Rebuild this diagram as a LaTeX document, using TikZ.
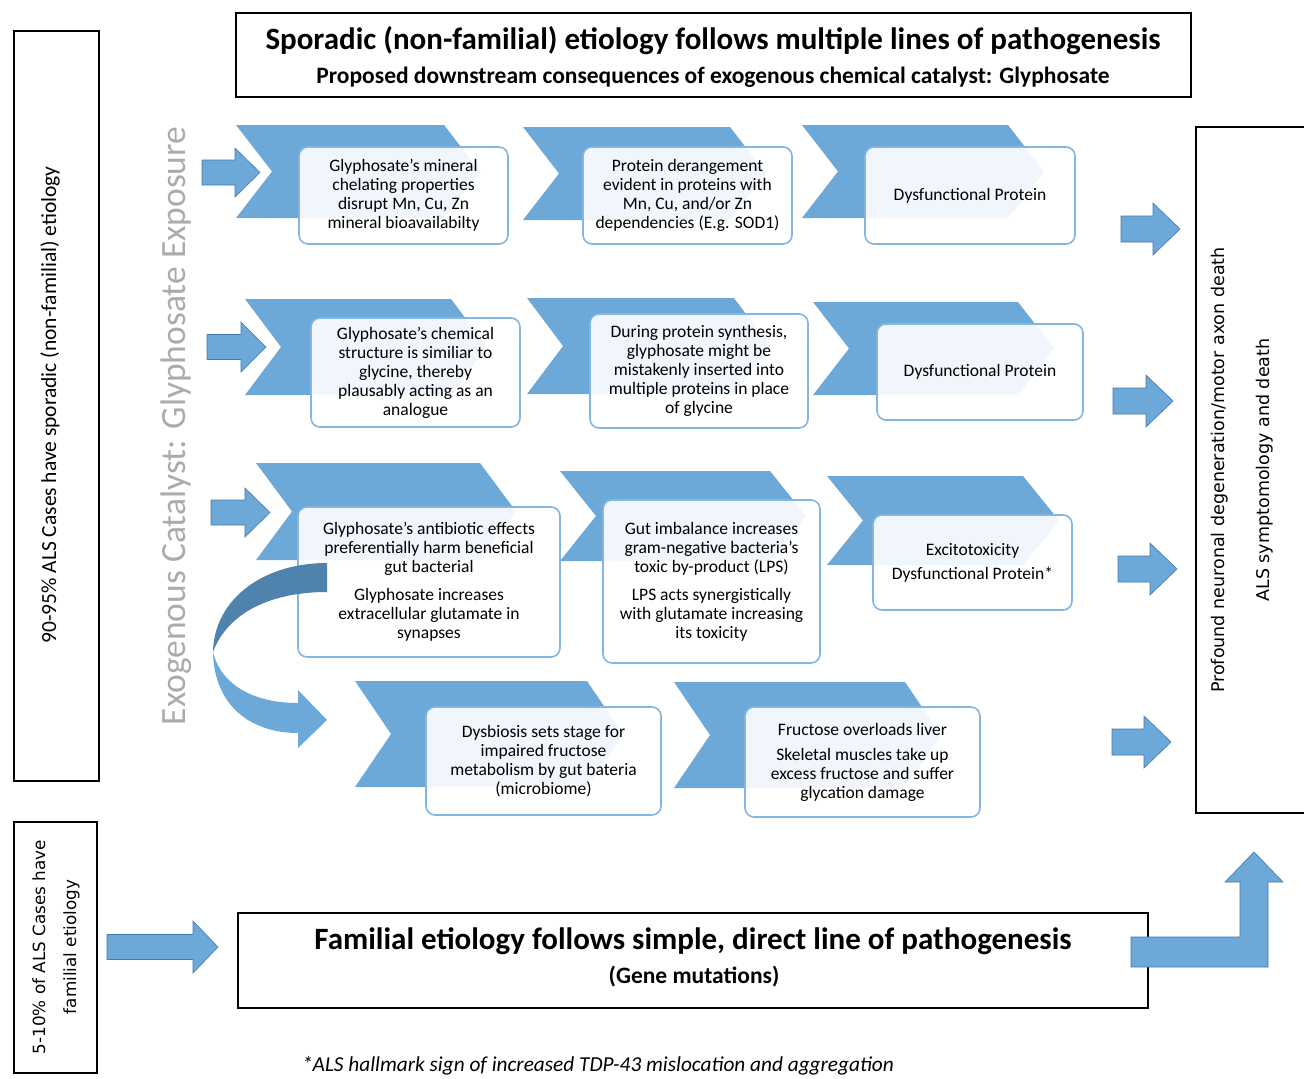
\documentclass[tikz,border=0pt]{standalone}
\usepackage{fontspec}
\setmainfont{Carlito}
\newfontfamily\verdana{DejaVu Sans}
\definecolor{chev}{RGB}{108,168,216}
\definecolor{chevdark}{RGB}{80,130,174}
\definecolor{boxline}{RGB}{132,182,224}
\definecolor{arrline}{RGB}{72,120,170}

\begin{document}
\begin{tikzpicture}[x=1pt,y=-1pt,
  frame/.style={draw=black,line width=1.2pt,inner sep=0pt},
  card/.style={draw=boxline,line width=1.6pt,fill=white,fill opacity=0.9,text opacity=1,
    rounded corners=9pt,align=center,inner sep=0pt,font=\fontsize{17.5}{19}\selectfont},
  blockarrow/.style={fill=chev,draw=arrline,line width=0.6pt}]
  \useasboundingbox (0,0) rectangle (1304,1079);

  % outer frames
  \node[frame,minimum width=85,minimum height=750] (sporadic) at (56.5,406) {};
  \node[frame,minimum width=83,minimum height=251] (familial) at (55.5,947.5) {};
  \node[frame,minimum width=955,minimum height=84] (head) at (713.5,55) {};
  \node[frame,minimum width=910,minimum height=95] (direct) at (693,960.5) {};
  \draw[line width=1.2pt] (1310,127) -- (1196,127) -- (1196,813) -- (1310,813);

  \node[rotate=90,font=\fontsize{21.5}{24}\selectfont] (sporadictxt) at (50,405)
    {90-95\% ALS Cases have sporadic (non-familial) etiology};
  \node[rotate=90,align=center,font=\verdana\fontsize{16.8}{31}\selectfont] (familialtxt) at (56,947)
    {5-10\% of ALS Cases have\\familial etiology};
  \node[font=\bfseries\fontsize{31}{34}\selectfont] (headtxt) at (713,41)
    {Sporadic (non-familial) etiology follows multiple lines of pathogenesis};
  \node[font=\bfseries\fontsize{23.5}{26}\selectfont] (subtxt) at (713,77)
    {Proposed downstream consequences of exogenous chemical catalyst: Glyphosate};
  \node[font=\bfseries\fontsize{31}{34}\selectfont] (directtxt) at (693,941)
    {Familial etiology follows simple, direct line of pathogenesis};
  \node[font=\bfseries\fontsize{23.5}{26}\selectfont] (genetxt) at (694,977) {(Gene mutations)};
  \node[rotate=90,align=center,font=\verdana\fontsize{17.5}{45}\selectfont] (deathtxt) at (1242,470)
    {Profound neuronal degeneration/motor axon death\\ALS symptomology and death};
  \node[rotate=90,text=black!33,font=\fontsize{35.5}{40}\selectfont] (expo) at (176,426)
    {Exogenous Catalyst: Glyphosate Exposure};
  \node[anchor=base,font=\itshape\fontsize{21.3}{24}\selectfont] (note) at (598,1071)
    {*ALS hallmark sign of increased TDP-43 mislocation and aggregation};

  % chevrons
  \foreach \x/\y/\w/\h in {236/125/208/93, 523/127/207/93, 802/125/206/93,
      245/299/206/96, 527/298/207/96, 813/302/205/93,
      256/463/224/97, 560/471/210/90, 827/476/196/89,
      355/681/232/106, 674/682/231/106}
    \fill[chev] (\x,\y) -- ++(\w,0) -- ++(36,\h/2) -- ++(-36,\h/2) -- ++(-\w,0) -- ++(36,-\h/2) -- cycle;

  % row 1
  \node[card,minimum width=209,minimum height=97] (mineral) at (403.5,195.5)
    {Glyphosate's mineral\\chelating properties\\disrupt Mn, Cu, Zn\\mineral bioavailabilty};
  \node[card,minimum width=209,minimum height=97] (derange) at (687.5,195.5)
    {Protein derangement\\evident in proteins with\\Mn, Cu, and/or Zn\\dependencies (E.g. SOD1)};
  \node[card,minimum width=210,minimum height=97] (dysA) at (970,195.5) {Dysfunctional Protein};
  % row 2
  \node[card,minimum width=209,minimum height=109] (chemical) at (415.5,372.5)
    {Glyphosate's chemical\\structure is similiar to\\glycine, thereby\\plausably acting as an\\analogue};
  \node[card,minimum width=218,minimum height=114] (synth) at (699,371)
    {During protein synthesis,\\glyphosate might be\\mistakenly inserted into\\multiple proteins in place\\of glycine};
  \node[card,minimum width=206,minimum height=96] (dysB) at (980,372) {Dysfunctional Protein};
  % row 3
  \node[card,minimum width=262,minimum height=150] (antibio) at (429,582)
    {Glyphosate's antibiotic effects\\preferentially harm beneficial\\gut bacterial\\[9pt]Glyphosate increases\\extracellular glutamate in\\synapses};
  \node[card,minimum width=217,minimum height=163] (gut) at (711.5,581.5)
    {Gut imbalance increases\\gram-negative bacteria's\\toxic by-product (LPS)\\[9pt]LPS acts synergistically\\with glutamate increasing\\its toxicity};
  \node[card,minimum width=199,minimum height=95] (excito) at (972.5,562.5)
    {Excitotoxicity\\[5pt]Dysfunctional Protein*};
  % row 4
  \node[card,minimum width=235,minimum height=108] (dysbio) at (543.5,761)
    {Dysbiosis sets stage for\\impaired fructose\\metabolism by gut bateria\\(microbiome)};
  \node[card,minimum width=235,minimum height=110] (fructose) at (862.5,762)
    {Fructose overloads liver\\[6pt]Skeletal muscles take up\\excess fructose and suffer\\glycation damage};

  % curved arrow
  \fill[chevdark] (327,563) .. controls (262,563) and (214,600) .. (213,652)
    .. controls (228,612) and (272,592) .. (327,592) -- cycle;
  \fill[chev] (213,652) .. controls (214,705) and (250,733) .. (298,733) -- (298,748) -- (327,720)
    -- (298,690) -- (298,703) .. controls (258,703) and (222,688) .. (213,652) -- cycle;

  % block arrows
  \foreach \x/\y/\l/\k/\a/\b in {202/172.5/58/25/24.5/12.5, 207/347/59/25/25/12.5, 211/512.5/59/25/24.5/12.5,
      1121/229/59/27/26/13, 1113/401/60/27/26/13, 1118/569/59/27/26/13, 1112/742/59/27/26/13,
      107/947/111/25/26/12.5}
    \draw[blockarrow] (\x,\y-\b) -- (\x+\l-\k,\y-\b) -- (\x+\l-\k,\y-\a) -- (\x+\l,\y)
      -- (\x+\l-\k,\y+\a) -- (\x+\l-\k,\y+\b) -- (\x,\y+\b) -- cycle;
  \draw[blockarrow] (1131,937) -- (1240,937) -- (1240,882) -- (1225,882) -- (1254,852)
    -- (1283,882) -- (1268,882) -- (1268,967) -- (1131,967) -- cycle;
\end{tikzpicture}
\end{document}
